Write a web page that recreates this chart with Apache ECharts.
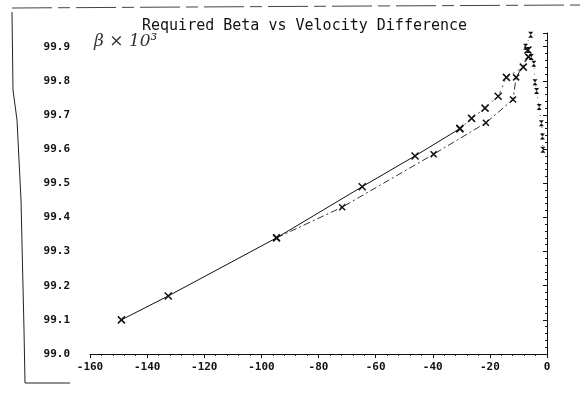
<!DOCTYPE html>
<html>
<head>
<meta charset="utf-8">
<script src="https://cdn.jsdelivr.net/npm/echarts@6/dist/echarts.min.js"></script>
<style>
  html, body { margin: 0; padding: 0; background: #fff; }
  #chart { width: 580px; height: 397px; }
</style>
</head>
<body>
<div id="chart"></div>
<script>
// velocity difference (x) vs required beta x 10^3 (y)
const solidX = [-149, -132.6, -94.7, -64.7, -46.2, -30.5]
const solidY = [99.10, 99.17, 99.34, 99.49, 99.58, 99.66]
const solidTailX = [-30.5, -26.4, -21.7, -17.1, -14.2, -8.3, -6.7]
const solidTailY = [99.66, 99.69, 99.72, 99.755, 99.81, 99.84, 99.89]
const dashX = [-94.7, -71.7, -39.7, -21.4, -11.9, -10.8, -6.5]
const dashY = [99.34, 99.43, 99.585, 99.677, 99.745, 99.81, 99.87]
const dropX = [-5.7, -7.5, -6.5, -5.5, -4.6, -4.2, -3.65, -2.74, -1.97, -1.6, -1.44]
const dropY = [99.935, 99.9, 99.89, 99.87, 99.85, 99.796, 99.77, 99.723, 99.676, 99.637, 99.598]
const xTicks = [-160, -140, -120, -100, -80, -60, -40, -20, 0]
const yTicks = [99.0, 99.1, 99.2, 99.3, 99.4, 99.5, 99.6, 99.7, 99.8, 99.9]

const pairs = (xs, ys) => xs.map((x, i) => [x, ys[i]])
const cross = 'path://M0,0 L10,10 M10,0 L0,10'
const bowtie = 'path://M0,0 L10,0 L0,10 L10,10 Z'
const mono = 'DejaVu Sans Mono'

const chart = echarts.init(document.getElementById('chart'))
const option = {
  backgroundColor: '#fff',
  animation: false,
  title: {
    text: 'Required Beta vs Velocity Difference',
    left: 137,
    top: 14,
    textStyle: { fontFamily: mono, fontSize: 15, fontWeight: 'normal', color: '#111' }
  },
  grid: { left: 90, right: 33, top: 33, bottom: 43 },
  xAxis: {
    type: 'value',
    min: xTicks[0],
    max: xTicks[xTicks.length - 1],
    interval: 20,
    axisLine: { lineStyle: { color: '#111', width: 1 } },
    axisTick: { length: 4, lineStyle: { color: '#111' } },
    minorTick: { show: true, splitNumber: 5, length: 2, lineStyle: { color: '#222' } },
    splitLine: { show: false },
    axisLabel: { fontFamily: mono, fontSize: 11, fontWeight: 'bold', color: '#111', margin: 8 }
  },
  yAxis: {
    type: 'value',
    min: yTicks[0],
    max: 99.94,
    interval: 0.1,
    axisLine: { show: true, lineStyle: { color: '#111', width: 1 } },
    axisTick: { length: 4, lineStyle: { color: '#111' } },
    minorTick: { show: true, splitNumber: 5, length: 2, lineStyle: { color: '#222' } },
    splitLine: { show: false },
    axisLabel: {
      fontFamily: mono, fontSize: 11, fontWeight: 'bold', color: '#111', margin: 20,
      showMaxLabel: false,
      formatter: (v) => v.toFixed(1)
    }
  },
  series: [
    {
      type: 'line',
      data: pairs(solidX, solidY),
      symbol: cross,
      symbolSize: 7,
      itemStyle: { color: 'transparent', borderColor: '#111', borderWidth: 1.5 },
      lineStyle: { color: '#111', width: 1 }
    },
    {
      type: 'line',
      data: pairs(solidTailX, solidTailY),
      symbol: cross,
      symbolSize: 7,
      showSymbol: true,
      itemStyle: { color: 'transparent', borderColor: '#111', borderWidth: 1.5 },
      lineStyle: { color: '#555', width: 1, type: [2, 4] }
    },
    {
      type: 'line',
      data: pairs(dashX, dashY),
      symbol: cross,
      symbolSize: 6,
      itemStyle: { color: 'transparent', borderColor: '#111', borderWidth: 1.5 },
      lineStyle: { color: '#333', width: 1, type: [7, 3, 2, 3] }
    },
    {
      type: 'line',
      data: pairs(dropX, dropY),
      symbol: bowtie,
      symbolSize: [5, 6],
      itemStyle: { color: '#111' },
      lineStyle: { color: '#666', width: 1, type: [1, 5] }
    }
  ],
  graphic: [
    {
      type: 'text',
      left: 94,
      top: 33,
      style: { text: 'β × 10³', fontFamily: 'DejaVu Serif', fontStyle: 'italic', fontSize: 17, fill: '#333' }
    },
    {
      type: 'polyline',
      shape: { points: [[12, 12], [13, 90], [17, 120], [21, 200], [24, 330], [25, 383], [70, 383]] },
      style: { stroke: '#222', lineWidth: 1, fill: null }
    },
    {
      type: 'polyline',
      shape: { points: [[12, 8], [370, 6], [580, 5]] },
      style: { stroke: '#444', lineWidth: 1, lineDash: [40, 6, 12, 6], fill: null }
    }
  ]
}
chart.setOption(option)
</script>
</body>
</html>
